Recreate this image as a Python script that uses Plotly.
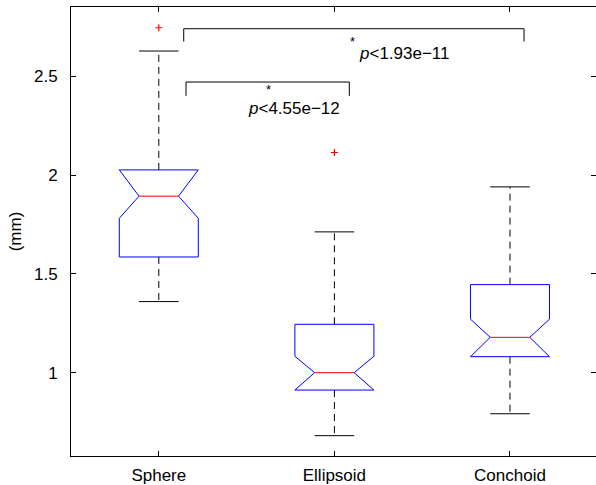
import plotly.graph_objects as go

# ---- data ----
categories = ["Sphere", "Ellipsoid", "Conchoid"]
positions = [1, 2, 3]
q1 = [1.586, 0.912, 1.081]
q3 = [2.027, 1.245, 1.446]
medians = [1.894, 1.000, 1.179]
notch_lo = [1.782, 0.912, 1.081]
notch_hi = [2.027, 1.083, 1.271]
whisker_lo = [1.360, 0.681, 0.792]
whisker_hi = [2.629, 1.713, 1.941]
outliers = [[2.747], [2.115], []]

y_tickvals = [1, 1.5, 2, 2.5]
y_ticktext = ["1", "1.5", "2", "2.5"]

# significance brackets: (x_start, x_end, y_top, y_leg_end)
brackets = [(1.142, 3.080, 2.742, 2.677), (1.155, 2.085, 2.472, 2.402)]
star_pos = [(2.105, 2.633), (1.624, 2.392)]
pval_text = ["<i>p</i>&lt;1.93e\u221211", "<i>p</i>&lt;4.55e\u221212"]
pval_pos = [(2.136, 2.619), (1.501, 2.337)]

# ---- style ----
BOX_HW = 0.225
NOTCH_HW = 0.1125
FONT = "Liberation Sans, Arial, Helvetica, sans-serif"
FS = 17

fig = go.Figure()

for i, x in enumerate(positions):
    xs = [x - BOX_HW, x - BOX_HW, x - NOTCH_HW, x - BOX_HW, x - BOX_HW,
          x + BOX_HW, x + BOX_HW, x + NOTCH_HW, x + BOX_HW, x + BOX_HW, x - BOX_HW]
    ys = [q1[i], notch_lo[i], medians[i], notch_hi[i], q3[i],
          q3[i], notch_hi[i], medians[i], notch_lo[i], q1[i], q1[i]]
    # whiskers (dashed)
    fig.add_trace(go.Scatter(x=[x, x, None, x, x],
                             y=[q3[i], whisker_hi[i], None, q1[i], whisker_lo[i]],
                             mode="lines", line=dict(color="black", width=1, dash="7px,5px"),
                             hoverinfo="skip", showlegend=False))
    # caps
    fig.add_trace(go.Scatter(x=[x - NOTCH_HW, x + NOTCH_HW, None, x - NOTCH_HW, x + NOTCH_HW],
                             y=[whisker_hi[i], whisker_hi[i], None, whisker_lo[i], whisker_lo[i]],
                             mode="lines", line=dict(color="black", width=1),
                             hoverinfo="skip", showlegend=False))
    # notched box
    fig.add_trace(go.Scatter(x=xs, y=ys, mode="lines",
                             line=dict(color="#0000ff", width=1),
                             hoverinfo="skip", showlegend=False))
    # median
    fig.add_trace(go.Scatter(x=[x - NOTCH_HW, x + NOTCH_HW], y=[medians[i], medians[i]],
                             mode="lines", line=dict(color="#ff0000", width=1),
                             hoverinfo="skip", showlegend=False))
    # outliers
    if outliers[i]:
        fig.add_trace(go.Scatter(x=[x] * len(outliers[i]), y=outliers[i], mode="markers",
                                 marker=dict(symbol="cross-thin", size=5,
                                             line=dict(color="#ff0000", width=1.2)),
                                 hoverinfo="skip", showlegend=False))

# brackets
for (xa, xb, yt, yl) in brackets:
    fig.add_trace(go.Scatter(x=[xa, xa, xb, xb], y=[yl, yt, yt, yl], mode="lines",
                             line=dict(color="black", width=1),
                             hoverinfo="skip", showlegend=False))

for (sx, sy) in star_pos:
    fig.add_annotation(x=sx, y=sy, text="*", showarrow=False, xanchor="center", yanchor="bottom",
                       borderpad=0, font=dict(family=FONT, size=13, color="black"))
for t, (px, py) in zip(pval_text, pval_pos):
    fig.add_annotation(x=px, y=py, text=t, showarrow=False, xanchor="left", yanchor="middle",
                       borderpad=0, font=dict(family=FONT, size=FS, color="black"))

# invisible trace to activate right-side tick axis
fig.add_trace(go.Scatter(x=[1], y=[1], yaxis="y2", mode="markers", opacity=0,
                         hoverinfo="skip", showlegend=False))

y_range = [0.578, 2.852]
fig.update_layout(
    width=596, height=485,
    margin=dict(l=71, r=0, t=7, b=29, autoexpand=False),
    paper_bgcolor="white", plot_bgcolor="white",
    font=dict(family=FONT, size=FS, color="black"),
    xaxis=dict(range=[0.5, 3.4898], tickvals=positions, ticktext=categories,
               showline=True, linecolor="black", linewidth=1, mirror="ticks",
               ticks="inside", ticklen=5, tickcolor="black", showgrid=False, zeroline=False,
               ticklabelstandoff=4, automargin=False),
    yaxis=dict(range=y_range, tickvals=y_tickvals, ticktext=y_ticktext,
               showline=True, linecolor="black", linewidth=1, mirror=False,
               ticks="inside", ticklen=5, tickcolor="black", showgrid=False, zeroline=False,
               title=dict(text="(mm)", standoff=8, font=dict(family=FONT, size=FS)),
               ticklabelstandoff=9, automargin=False),
    yaxis2=dict(range=y_range, overlaying="y", side="right", tickvals=y_tickvals,
                showticklabels=False, ticks="inside", ticklen=5, tickcolor="black",
                showline=False, showgrid=False, zeroline=False),
)

fig.write_html("out.html", config={"displayModeBar": False},
               post_script="document.body.style.margin='0';document.body.style.overflow='hidden';")
